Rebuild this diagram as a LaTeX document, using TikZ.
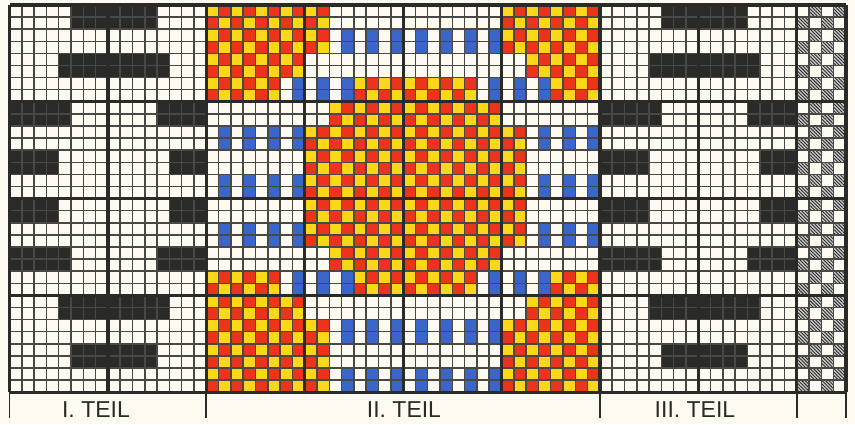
\documentclass[tikz,border=0pt]{standalone}
\usepackage{fontspec}
\newfontfamily\teilfont{Liberation Sans}
\usetikzlibrary{patterns.meta}
\definecolor{paper}{RGB}{253,251,241}
\definecolor{ink}{RGB}{42,42,40}
\definecolor{gridgray}{RGB}{74,72,68}
\definecolor{teilred}{RGB}{236,52,28}
\definecolor{teilyellow}{RGB}{252,214,24}
\definecolor{teilblue}{RGB}{58,102,202}

\begin{document}
\begin{tikzpicture}[x=12.3pt,y=-12.1pt,
  gridline/.style={draw=gridgray,line width=1.5pt},
  blockline/.style={draw=ink,line width=3.2pt},
  tick/.style={draw=ink,line width=1.8pt},
  hatch/.style={fill=gray!40,postaction={pattern={Lines[angle=-45,distance=2.4pt,line width=0.9pt]},pattern color=ink}},
  teil/.style={font=\teilfont\fontsize{23}{23}\selectfont,text=ink,inner sep=0pt}]
\useasboundingbox (-9.5pt,5pt) rectangle ++(855pt,-424pt);
\fill[paper] (-9.5pt,5pt) rectangle ++(855pt,-424pt);

% Teil I and Teil III: black bars
\foreach \ox in {0,48}
  \foreach \r/\a/\e in {0/5/11, 4/4/12, 8/0/4, 8/12/15, 12/0/3, 12/13/15,
                        16/0/3, 16/13/15, 20/0/4, 20/12/15, 24/4/12, 28/5/11}
    \fill[ink] (\ox+\a,\r) rectangle (\ox+\e+1,\r+2);

% Teil II: red/yellow checks
\foreach \r/\a/\e in {0/0/9, 0/24/31, 2/0/9, 2/24/31, 4/0/7, 4/26/31,
                      6/0/5, 6/12/21, 6/28/31, 8/10/23,
                      10/8/25, 12/8/25, 14/8/25, 16/8/25, 18/8/25, 20/10/23,
                      22/0/5, 22/12/21, 22/28/31, 24/0/7, 24/26/31,
                      26/0/9, 26/24/31, 28/0/9, 28/24/31, 30/0/9, 30/24/31} {
  \fill[teilred] (16+\a,\r) rectangle (17+\e,\r+2);
  \foreach \c in {\a,...,\e}
    \fill[teilyellow] (16+\c,{\r+mod(\c,2)}) rectangle ++(1,1);
}

% Teil II: blue stripes
\foreach \r/\a/\e in {2/10/23, 6/6/11, 6/22/27, 10/0/7, 10/26/31, 14/0/7, 14/26/31,
                      18/0/7, 18/26/31, 22/6/11, 22/22/27, 26/10/23, 30/10/23}
  \foreach \c in {\a,...,\e}
    {\ifodd\c \fill[teilblue] (16+\c,\r) rectangle ++(1,2);\fi}

% edge strip
\foreach \r in {0,...,31}
  \foreach \c in {0,...,3}
    {\ifodd\numexpr\r+\c\relax \fill[hatch] (64+\c,\r) rectangle ++(1,1);\fi}

% grid
\foreach \c in {0,...,68}
  \draw[gridline] (\c,0) -- (\c,32);
\foreach \r in {0,...,32}
  \draw[gridline] (0,\r) -- (68,\r);
\foreach \c in {0,8,...,64,68}
  \draw[blockline] (\c,0) -- (\c,32);
\foreach \r in {0,8,...,32}
  \draw[blockline] (0,\r) -- (68,\r);

% labels
\foreach \c in {0,16,48,64,68}
  \draw[tick] (\c,32) -- (\c,34.13);
\node[teil] (teilI) at (7.03,33.47) {I. TEIL};
\node[teil] (teilII) at (32.07,33.47) {II. TEIL};
\node[teil] (teilIII) at (55.73,33.47) {III. TEIL};
\end{tikzpicture}
\end{document}
